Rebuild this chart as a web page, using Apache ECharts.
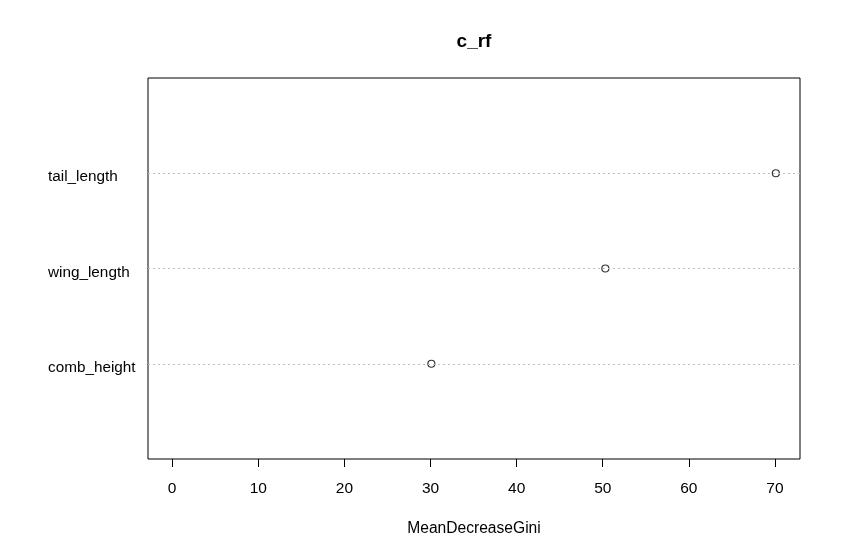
<!DOCTYPE html>
<html>
<head>
<meta charset="utf-8">
<script src="https://cdn.jsdelivr.net/npm/echarts@6/dist/echarts.min.js"></script>
<style>html,body{margin:0;padding:0;background:#fff}#c{width:841px;height:556px}</style>
</head>
<body>
<div id="c"></div>
<script>
const features = ['comb_height', 'wing_length', 'tail_length'];
const importance = [30.1, 50.3, 70.1];
const xTicks = [0, 10, 20, 30, 40, 50, 60, 70];
const title = 'c_rf';
const xName = 'MeanDecreaseGini';

const rows = features.map((f, i) => i + 1);
const xmax = Math.max(...importance);
const font = '"Liberation Sans", Arial, sans-serif';

const chart = echarts.init(document.getElementById('c'), null, {renderer: 'canvas'});
chart.setOption({
  animation: false,
  backgroundColor: '#fff',
  graphic: [{
    type: 'text', x: 474, y: 42, silent: true,
    style: {text: title, textAlign: 'center', textVerticalAlign: 'middle',
      font: 'bold 19px "Liberation Sans", Arial, sans-serif', fill: '#000'}
  }],
  grid: {left: 148, right: 41, top: 78, bottom: 97, show: true, borderColor: '#000', borderWidth: 1, backgroundColor: 'transparent'},
  xAxis: {
    type: 'value', min: -0.04 * xmax, max: 1.04 * xmax,
    name: xName, nameLocation: 'middle', nameGap: 62,
    nameTextStyle: {fontFamily: font, fontSize: 15.6, color: '#000'},
    axisLine: {show: false},
    axisTick: {show: true, length: 8, customValues: xTicks, lineStyle: {color: '#000'}},
    axisLabel: {customValues: xTicks, margin: 22, fontFamily: font, fontSize: 15.5, color: '#000'},
    splitLine: {show: false}
  },
  yAxis: {
    type: 'value', min: 0, max: features.length + 1,
    axisLine: {show: false},
    axisTick: {show: false},
    splitLine: {show: false},
    axisLabel: {
      customValues: rows, align: 'left', margin: 100,
      formatter: v => '{a|' + (features[Math.round(v) - 1] || '') + '}',
      rich: {a: {fontFamily: font, fontSize: 15.3, color: '#000', padding: [8, 0, 0, 0]}}
    }
  },
  series: [{
    type: 'scatter',
    data: importance.map((v, i) => [v, rows[i]]),
    symbol: 'circle', symbolSize: 7,
    itemStyle: {color: '#fff', borderColor: '#000', borderWidth: 1.2},
    markLine: {
      silent: true, symbol: 'none', label: {show: false},
      lineStyle: {type: [2, 3], color: '#bebebe', width: 1},
      data: rows.map(r => ({yAxis: r}))
    },
    z: 3
  }]
});
</script>
</body>
</html>
